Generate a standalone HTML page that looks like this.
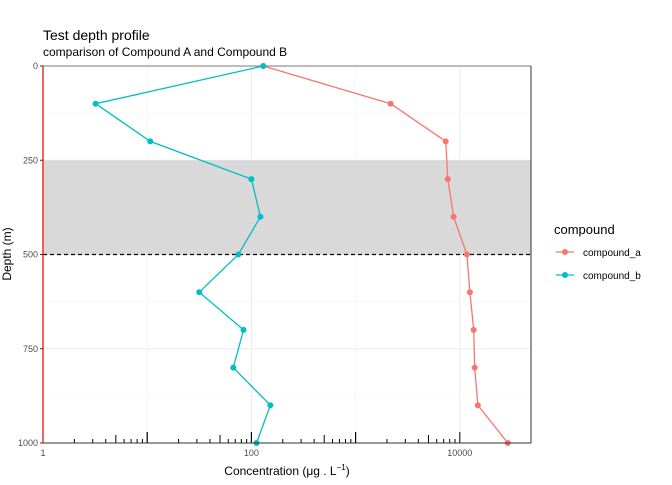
<!DOCTYPE html>
<html><head><meta charset="utf-8"><style>
body{margin:0;background:#fff;font-family:"Liberation Sans",sans-serif}
</style></head><body>
<svg id="chart" width="672" height="480" xmlns="http://www.w3.org/2000/svg" font-family="Liberation Sans, sans-serif">
<text x="43" y="40" font-size="14" fill="#000">Test depth profile</text>
<text x="43" y="56" font-size="12" fill="#000">comparison of Compound A and Compound B</text>
<g id="grid"></g>
<g id="marks"></g>
<g id="axes"></g>
<text x="287" y="475" font-size="12" text-anchor="middle">Concentration (μg . L<tspan font-size="8" dy="-5">−1</tspan><tspan dy="5">)</tspan></text>
<text transform="translate(11,254) rotate(-90)" font-size="12" text-anchor="middle">Depth (m)</text>
<g>
<text x="554" y="234" font-size="13">compound</text>
<g>
<line x1="556" y1="252" x2="574" y2="252" stroke="#F8766D" stroke-width="1.2"/><circle cx="565" cy="252" r="3" fill="#F8766D"/>
<text x="583" y="256" font-size="10">compound_a</text></g>
<g>
<line x1="556" y1="275" x2="574" y2="275" stroke="#00BFC4" stroke-width="1.2"/><circle cx="565" cy="275" r="3" fill="#00BFC4"/>
<text x="583" y="279" font-size="10">compound_b</text></g>
</g>
</svg>
<script>
const depths=[0,100,200,300,400,500,600,700,800,900,1000];
const compoundA=[130,2170,7330,7670,8720,11700,12500,13600,13900,14900,28900];
const compoundB=[130,3.2,10.7,100,122,75,31.6,84,67,152,112];
const yTicks=[0,250,500,750,1000];
const xTickValues=[1,100,10000];
const xTickLabels=["1","100","10000"];
const bandRange=[250,500];
const dashedDepth=500;

const NS="http://www.w3.org/2000/svg";
const L=43,R=531,T=66,B=443,DEC=104.2;
const xs=v=>L+Math.log10(v)*DEC;
const ys=d=>T+(d/1000)*(B-T);
function mk(tag,attrs,parent){const e=document.createElementNS(NS,tag);for(const k in attrs)e.setAttribute(k,attrs[k]);parent.appendChild(e);return e;}
const gridG=document.getElementById('grid'),marksG=document.getElementById('marks'),axesG=document.getElementById('axes');
for(let i=0;i<yTicks.length-1;i++){const d=(yTicks[i]+yTicks[i+1])/2;
const g=mk('line',{x1:L,x2:R,y1:ys(d),y2:ys(d),stroke:'#f2f2f2','stroke-width':0.6},gridG);

}
for(const d of yTicks){const g=mk('line',{x1:L,x2:R,y1:ys(d),y2:ys(d),stroke:'#ebebeb','stroke-width':1},gridG);

}
for(const v of [10,1000]){const g=mk('line',{x1:xs(v),x2:xs(v),y1:T,y2:B,stroke:'#f2f2f2','stroke-width':0.6},gridG);

}
for(const v of xTickValues){const g=mk('line',{x1:xs(v),x2:xs(v),y1:T,y2:B,stroke:'#ebebeb','stroke-width':1},gridG);

}
const band=mk('rect',{x:L,y:ys(bandRange[0]),width:R-L,height:ys(bandRange[1])-ys(bandRange[0]),fill:'#d9d9d9'},marksG);


const topLine=mk('line',{x1:L,x2:R,y1:T,y2:T,stroke:'#555','stroke-width':0.8},marksG);


const dl=mk('line',{x1:L,x2:R,y1:ys(dashedDepth),y2:ys(dashedDepth),stroke:'#000','stroke-width':1.2,'stroke-dasharray':'4,3'},marksG);


for(let dec=0;dec<4;dec++){for(let m=1;m<=10;m++){const v=m*Math.pow(10,dec);if(xs(v)>R)continue;
const len=(m===1||m===10)?11:(m===5?8:4);
const t=mk('line',{x1:xs(v),x2:xs(v),y1:B,y2:B-len,stroke:'#000','stroke-width':1},axesG);

}}
const rb=mk('line',{x1:R,x2:R,y1:T,y2:B,stroke:'#333','stroke-width':1},axesG);


const bb=mk('line',{x1:L,x2:R,y1:B,y2:B,stroke:'#333','stroke-width':1},axesG);


const vl=mk('line',{x1:L,x2:L,y1:T,y2:B,stroke:'#e8322a','stroke-width':1.5},axesG);


function series(vals,color,name){
const p=mk('polyline',{points:vals.map((v,i)=>xs(v)+','+ys(depths[i])).join(' '),fill:'none',stroke:color,'stroke-width':1.3},marksG);


vals.forEach((v,i)=>{const c=mk('circle',{cx:xs(v),cy:ys(depths[i]),r:3,fill:color},marksG);

});}
series(compoundA,'#F8766D','compound-a');
series(compoundB,'#00BFC4','compound-b');
yTicks.forEach(d=>{const t=mk('text',{x:L-5,y:ys(d)+3,'font-size':9,'text-anchor':'end',fill:'#4d4d4d'},axesG);t.textContent=d;


const tk=mk('line',{x1:L-3,x2:L,y1:ys(d),y2:ys(d),stroke:'#333'},axesG);

});
xTickValues.forEach((v,i)=>{const t=mk('text',{x:xs(v),y:B+13,'font-size':9,'text-anchor':'middle',fill:'#4d4d4d'},axesG);t.textContent=xTickLabels[i];

});
</script>
</body></html>
